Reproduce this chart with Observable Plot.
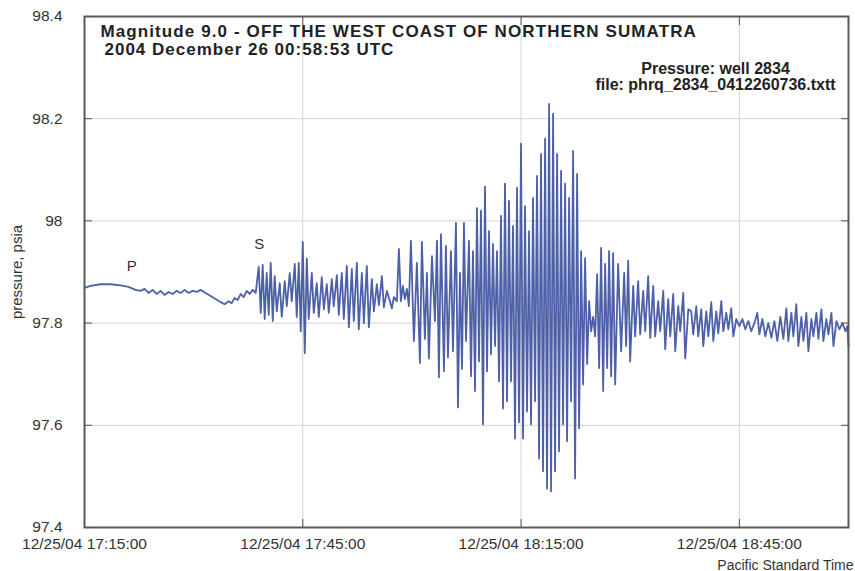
<!DOCTYPE html>
<html>
<head>
<meta charset="utf-8">
<script src="https://cdn.jsdelivr.net/npm/d3@7"></script>
<script src="https://cdn.jsdelivr.net/npm/@observablehq/plot@0.6"></script>
<style>
  html, body { margin: 0; padding: 0; background: #fff; }
</style>
</head>
<body>
<div id="chart"></div>
<script>
// ---- data ----
const titleLine1 = "Magnitude 9.0 - OFF THE WEST COAST OF NORTHERN SUMATRA";
const titleLine2 = "2004 December 26 00:58:53 UTC";
const noteLines = ["Pressure: well 2834", "file: phrq_2834_0412260736.txtt"];
const yLabel = "pressure, psia";
const xLabel = "Pacific Standard Time";
const startClock = [2004, 11, 25, 17, 15]; // 12/25/04 17:15:00 PST
const endMinutes = 105;                    // 19:00:00
const xTickMinutes = [0, 30, 60, 90];
const yTicks = [97.4, 97.6, 97.8, 98.0, 98.2, 98.4];
const phaseLabels = ["P", "S"];
const phaseMinutes = [6.5, 24.0];
const phaseLevels = [97.912, 97.955];

// [minutes after 17:15 PST, pressure psia]
const samples = [
  [0.00,97.869],[0.83,97.873],[2.20,97.876],[3.58,97.876],[4.95,97.874],[6.05,97.871],[7.02,97.865],
  [7.71,97.863],[8.26,97.867],[8.81,97.859],[9.36,97.865],[9.91,97.857],[10.46,97.863],[11.01,97.855],
  [11.56,97.861],[12.11,97.857],[12.66,97.863],[13.21,97.859],[13.76,97.865],[14.31,97.859],[14.86,97.863],
  [15.41,97.861],[15.96,97.865],[16.65,97.859],[17.34,97.853],[18.03,97.847],[18.72,97.841],[19.26,97.837],
  [19.81,97.843],[20.23,97.839],[20.64,97.849],[21.05,97.845],[21.47,97.857],[21.88,97.851],[22.29,97.863],
  [22.70,97.857],[23.12,97.865],[23.53,97.859],
  [23.94,97.910],[24.22,97.820],[24.49,97.914],[24.77,97.808],[25.04,97.898],[25.32,97.816],[25.59,97.918],
  [25.87,97.804],[26.14,97.892],[26.42,97.823],[26.83,97.878],[27.11,97.812],[27.52,97.882],[27.80,97.833],
  [28.21,97.898],[28.48,97.843],[28.90,97.916],[29.17,97.812],[29.45,97.918],[29.72,97.784],[30.00,97.959],
  [30.27,97.741],[30.55,97.926],[30.82,97.808],[31.24,97.898],[31.51,97.820],[31.92,97.878],[32.20,97.812],
  [32.61,97.890],[32.89,97.827],[33.30,97.876],[33.57,97.820],[33.99,97.886],[34.26,97.833],[34.68,97.894],
  [34.95,97.816],[35.36,97.898],[35.64,97.808],[36.05,97.912],[36.33,97.792],[36.74,97.906],[37.01,97.804],
  [37.43,97.918],[37.70,97.788],[38.12,97.898],[38.39,97.800],[38.80,97.912],[39.08,97.792],[39.49,97.886],
  [39.77,97.823],[40.18,97.876],[40.46,97.835],[40.87,97.892],[41.14,97.831],[41.56,97.863],[41.97,97.843],
  [42.24,97.829],[42.52,97.851],[42.93,97.843],[43.21,97.945],[43.48,97.843],[43.76,97.873],[44.03,97.847],
  [44.31,97.867],[44.58,97.833],[44.86,97.961],[45.27,97.765],[45.68,97.918],[46.10,97.722],[46.37,97.959],
  [46.78,97.769],[47.06,97.898],[47.33,97.731],[47.75,97.931],[48.16,97.804],[48.44,97.961],[48.71,97.694],
  [48.99,97.974],[49.40,97.706],[49.67,97.951],[49.95,97.733],[50.36,97.941],[50.64,97.745],[51.05,97.996],
  [51.33,97.635],[51.60,97.898],[51.88,97.710],[52.15,97.996],[52.43,97.765],[52.84,97.961],[53.12,97.696],
  [53.39,97.941],[53.67,97.667],[53.94,98.025],[54.22,97.725],[54.49,98.020],[54.77,97.602],[55.04,98.067],
  [55.32,97.706],[55.59,97.980],[55.87,97.739],[56.14,97.955],[56.42,97.755],[56.69,97.941],[56.97,97.686],
  [57.24,98.010],[57.52,97.633],[57.79,98.073],[58.07,97.647],[58.34,98.039],[58.62,97.686],[58.89,97.990],
  [59.17,97.574],[59.44,98.065],[59.72,97.606],[59.99,98.151],[60.27,97.574],[60.54,98.029],[60.82,97.627],
  [61.09,97.980],[61.37,97.602],[61.64,98.045],[61.92,97.647],[62.19,98.088],[62.47,97.535],[62.74,98.131],
  [63.02,97.510],[63.30,98.161],[63.57,97.476],[63.85,98.229],[64.12,97.471],[64.40,98.210],[64.67,97.510],
  [64.95,98.131],[65.22,97.549],[65.50,98.098],[65.77,97.602],[66.05,98.073],[66.32,97.569],[66.60,98.045],
  [66.87,97.647],[67.15,98.137],[67.42,97.496],[67.70,98.092],[67.97,97.594],[68.25,97.941],[68.52,97.680],
  [68.80,97.927],[69.08,97.720],[69.35,97.843],[69.63,97.784],[69.90,97.812],[70.18,97.774],[70.45,97.896],
  [70.73,97.712],[71.00,97.947],[71.28,97.667],[71.55,97.916],[71.83,97.712],[72.10,97.941],[72.38,97.696],
  [72.65,97.937],[72.93,97.680],[73.34,97.916],[73.75,97.745],[74.17,97.898],[74.44,97.755],[74.72,97.922],
  [74.99,97.725],[75.41,97.873],[75.68,97.774],[76.09,97.882],[76.37,97.778],[76.78,97.863],[77.06,97.784],
  [77.47,97.892],[77.75,97.771],[78.16,97.873],[78.43,97.774],[78.85,97.843],[79.12,97.784],[79.54,97.863],
  [79.81,97.749],[80.22,97.847],[80.50,97.774],[80.91,97.857],[81.19,97.745],[81.60,97.833],[81.87,97.784],
  [82.29,97.859],[82.56,97.731],[82.98,97.827],[83.39,97.823],[83.66,97.778],[84.08,97.833],[84.35,97.774],
  [84.76,97.827],[85.04,97.755],[85.45,97.823],[85.73,97.774],[86.14,97.841],[86.42,97.765],[86.83,97.823],
  [87.10,97.780],[87.52,97.843],[87.79,97.784],[88.20,97.820],[88.48,97.788],[88.89,97.829],[89.17,97.774],
  [89.58,97.808],[90.00,97.794],[90.41,97.808],[90.82,97.788],[91.23,97.804],[91.64,97.784],[92.06,97.800],
  [92.47,97.820],[92.75,97.778],[93.16,97.808],[93.57,97.774],[93.98,97.800],[94.40,97.771],[94.81,97.804],
  [95.22,97.765],[95.63,97.812],[96.05,97.769],[96.46,97.829],[96.73,97.765],[97.15,97.820],[97.42,97.774],
  [97.83,97.837],[98.11,97.755],[98.52,97.812],[98.80,97.765],[99.21,97.820],[99.49,97.745],[99.90,97.808],
  [100.17,97.774],[100.59,97.820],[100.86,97.769],[101.27,97.827],[101.55,97.765],[101.96,97.808],[102.24,97.778],
  [102.65,97.820],[102.93,97.755],[103.34,97.804],[103.75,97.788],[104.17,97.800],[104.58,97.784],[104.85,97.794],
  [105.00,97.755]
];

// ---- build ----
const t0 = Date.UTC(...startClock);
const toTime = (m) => new Date(t0 + m * 60000);
const rows = samples.map(([m, p]) => ({time: toTime(m), pressure: p}));
const xTicks = xTickMinutes.map(toTime);
const phases = phaseLabels.map((label, i) => ({label, time: toTime(phaseMinutes[i]), pressure: phaseLevels[i]}));
const fmtX = d3.utcFormat("%m/%d/%y %H:%M:%S");
const fmtY = d3.format("~g");

const tickFont = "'Liberation Sans', Arial, sans-serif";
const boldFont = "'Liberation Sans', Arial, sans-serif";

const chart = Plot.plot({
  width: 855,
  height: 571,
  marginLeft: 84,
  marginRight: 7,
  marginTop: 16,
  marginBottom: 44,
  style: {fontFamily: tickFont, fontSize: "15px", color: "#333", background: "#fff", overflow: "visible"},
  x: {type: "utc", domain: [toTime(0), toTime(endMinutes)]},
  y: {domain: [97.4, 98.4]},
  marks: [
    Plot.gridX({ticks: xTicks, stroke: "#d4d4d4", strokeOpacity: 1}),
    Plot.gridY({ticks: yTicks, stroke: "#d4d4d4", strokeOpacity: 1}),
    Plot.line(rows, {x: "time", y: "pressure", stroke: "#4e60a8", strokeWidth: 1.8}),
    Plot.frame({stroke: "#5a5a5a", strokeWidth: 2}),
    // inward tick marks on all sides
    Plot.axisX({ticks: xTicks, anchor: "bottom", tickSize: -8, tickFormat: () => "", label: null, stroke: "#555"}),
    Plot.axisX({ticks: xTicks, anchor: "top", tickSize: -8, tickFormat: () => "", label: null, stroke: "#555"}),
    Plot.axisY({ticks: yTicks, anchor: "left", tickSize: -8, tickFormat: () => "", label: null, stroke: "#555"}),
    Plot.axisY({ticks: yTicks, anchor: "right", tickSize: -8, tickFormat: () => "", label: null, stroke: "#555"}),
    // tick labels
    Plot.axisX({ticks: xTicks, anchor: "bottom", tickSize: 0, tickPadding: 10, tickFormat: fmtX, label: null, fontSize: 15.5}),
    Plot.axisY({ticks: yTicks, anchor: "left", tickSize: 0, tickPadding: 22, tickFormat: fmtY, label: null, fontSize: 15.5}),
    // axis titles
    Plot.text([yLabel], {frameAnchor: "left", dx: -67, rotate: -90, textAnchor: "middle", text: d => d, fontSize: 15, fill: "#333"}),
    Plot.text([xLabel], {frameAnchor: "bottom-right", dx: 5, dy: 42, textAnchor: "end", lineAnchor: "bottom", text: d => d, fontSize: 14, fill: "#333"}),
    // titles
    Plot.text([titleLine1], {frameAnchor: "top-left", dx: 16, dy: 8, text: d => d, fontFamily: boldFont, fontWeight: "bold", fontSize: 17, fill: "#222"}),
    Plot.text([titleLine2], {frameAnchor: "top-left", dx: 20, dy: 26, text: d => d, fontFamily: boldFont, fontWeight: "bold", fontSize: 17, fill: "#222"}),
    Plot.text([noteLines.join("\n")], {frameAnchor: "top-right", dx: -133, dy: 46, textAnchor: "middle", lineHeight: 1.0, text: d => d, fontFamily: boldFont, fontWeight: "bold", fontSize: 16, fill: "#222"}),
    // phase labels
    Plot.text(phases, {x: "time", y: "pressure", text: "label", fontFamily: boldFont, fontSize: 15, fill: "#333"})
  ]
});
// widen the bold title lines to the reference's letter spacing
d3.select(chart).selectAll("text").each(function () {
  const s = this.textContent;
  if (s === titleLine1) this.style.letterSpacing = "1.1px";
  if (s === titleLine2) this.style.letterSpacing = "1px";
});
document.getElementById("chart").appendChild(chart);
</script>
</body>
</html>
